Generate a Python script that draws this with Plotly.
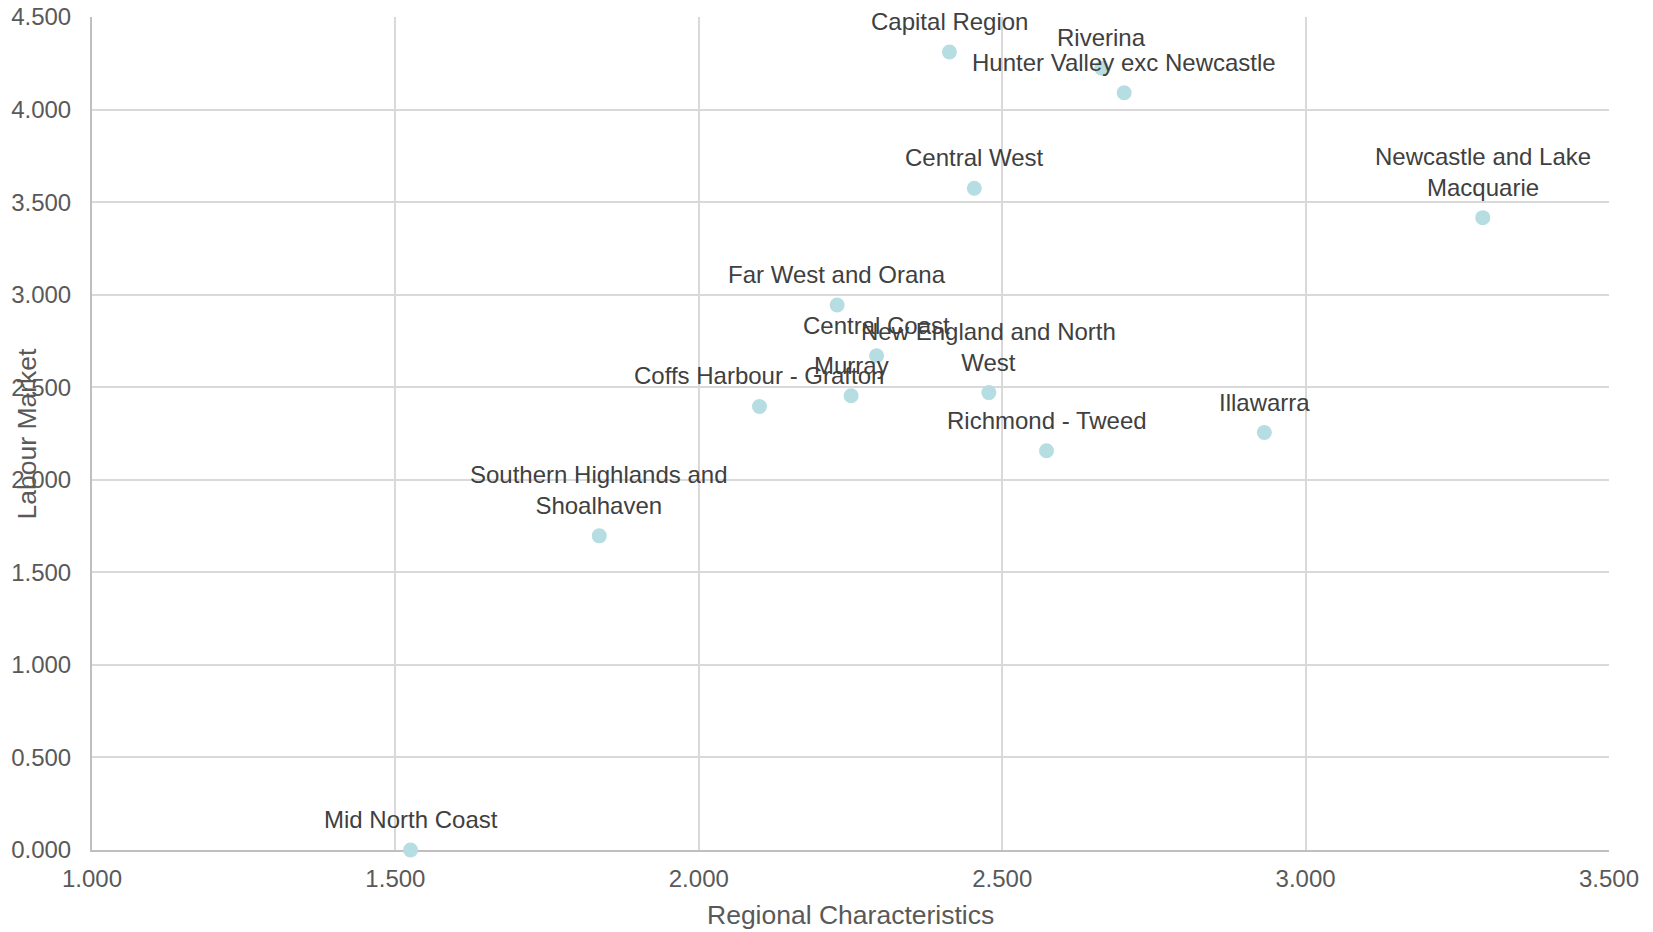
import plotly.graph_objects as go

# Regional scores: x = regional characteristics, y = labour market
regions = [
    "Capital Region",
    "Riverina",
    "Hunter Valley exc Newcastle",
    "Central West",
    "Newcastle and Lake<br>Macquarie",
    "Far West and Orana",
    "Central Coast",
    "Murray",
    "New England and North<br>West",
    "Coffs Harbour - Grafton",
    "Illawarra",
    "Richmond - Tweed",
    "Southern Highlands and<br>Shoalhaven",
    "Mid North Coast",
]
regional_characteristics = [2.413, 2.664, 2.701, 2.454, 3.292, 2.228, 2.293,
                            2.251, 2.478, 2.100, 2.932, 2.573, 1.836, 1.525]
labour_market = [4.311, 4.223, 4.091, 3.575, 3.416, 2.944, 2.670,
                 2.454, 2.471, 2.396, 2.255, 2.157, 1.697, 0.000]

x_ticks = [1.0, 1.5, 2.0, 2.5, 3.0, 3.5]
y_ticks = [0.0, 0.5, 1.0, 1.5, 2.0, 2.5, 3.0, 3.5, 4.0, 4.5]

FONT = "Liberation Sans, Arial, sans-serif"
MARKER = "#B6DDE1"
GRID = "#D9D9D9"
AXIS = "#BFBFBF"
TICK_TXT = "#595959"
LABEL_TXT = "#404040"

fig = go.Figure()
fig.add_trace(go.Scatter(
    x=regional_characteristics,
    y=labour_market,
    mode="markers",
    marker=dict(size=15, color=MARKER, line=dict(width=0)),
    cliponaxis=False,
    hovertext=[r.replace("<br>", " ") for r in regions],
    hoverinfo="text+x+y",
    showlegend=False,
))

# Data labels centred above each point
for name, xv, yv in zip(regions, regional_characteristics, labour_market):
    fig.add_annotation(
        x=xv, y=yv, xref="x", yref="y",
        text=name, showarrow=False,
        xanchor="center", yanchor="bottom", yshift=15,
        font=dict(family=FONT, size=24, color=LABEL_TXT),
    )

# Axis titles
fig.add_annotation(
    x=0.5, y=0, xref="paper", yref="paper",
    text="Regional Characteristics", showarrow=False,
    xanchor="center", yanchor="top", yshift=-48,
    font=dict(family=FONT, size=26.5, color=TICK_TXT),
)
fig.add_annotation(
    x=0, y=0.5, xref="paper", yref="paper",
    text="Labour Market", showarrow=False, textangle=-90,
    xanchor="center", yanchor="middle", xshift=-66,
    font=dict(family=FONT, size=26.5, color=TICK_TXT),
)

fig.update_layout(
    width=1653, height=932,
    margin=dict(l=92, r=44, t=17, b=82, autoexpand=False),
    paper_bgcolor="white",
    plot_bgcolor="white",
    font=dict(family=FONT, color=TICK_TXT),
)
fig.update_xaxes(
    range=[1.0, 3.5], tickvals=x_ticks, ticktext=[f"{v:.3f}" for v in x_ticks],
    showgrid=True, gridcolor=GRID, gridwidth=2,
    showline=True, linecolor=AXIS, linewidth=2,
    zeroline=False, ticks="", ticklabelstandoff=6,
    tickfont=dict(family=FONT, size=24, color=TICK_TXT),
    layer="below traces", fixedrange=True, automargin=False,
)
fig.update_yaxes(
    range=[0.0, 4.5], tickvals=y_ticks, ticktext=[f"{v:.3f}" for v in y_ticks],
    showgrid=True, gridcolor=GRID, gridwidth=2,
    showline=True, linecolor=AXIS, linewidth=2,
    zeroline=False, ticks="", ticklabelstandoff=14,
    tickfont=dict(family=FONT, size=24, color=TICK_TXT),
    layer="below traces", fixedrange=True, automargin=False,
)

fig.write_html("out.html")
